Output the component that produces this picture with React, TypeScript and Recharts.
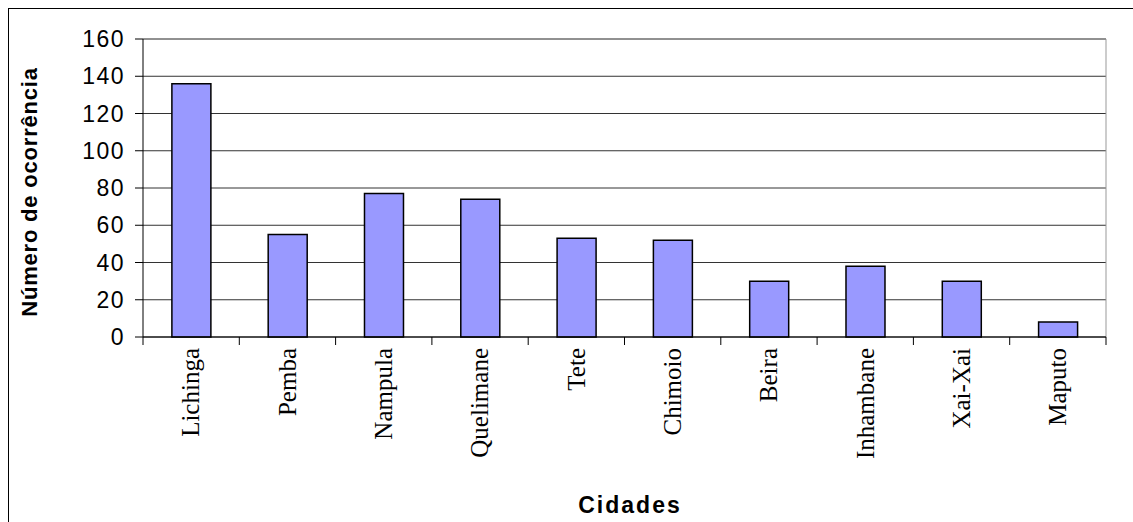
import { Bar, BarChart, CartesianGrid, ReferenceLine, XAxis, YAxis } from "recharts";

const cities = [
  "Lichinga",
  "Pemba",
  "Nampula",
  "Quelimane",
  "Tete",
  "Chimoio",
  "Beira",
  "Inhambane",
  "Xai-Xai",
  "Maputo",
];
const occurrences = [136, 55, 77, 74, 53, 52, 30, 38, 30, 8];
const yTicks = [0, 20, 40, 60, 80, 100, 120, 140, 160];

const chartData = cities.map((city, i) => ({ city, value: occurrences[i] }));

function CityTick(props: any) {
  const { x, y, payload, index } = props;
  const half = payload?.offset ?? 0;
  return (
    <g>
      <line x1={x - half} y1={y} x2={x - half} y2={y + 8} stroke="#000" strokeWidth={1} />
      {index === cities.length - 1 && (
        <line x1={x + half} y1={y} x2={x + half} y2={y + 8} stroke="#000" strokeWidth={1} />
      )}
      <text
        x={x}
        y={y + 11}
        transform={`rotate(-90 ${x} ${y + 11})`}
        textAnchor="end"
        dy="0.33em"
        fontFamily="'Liberation Serif', 'Times New Roman', serif"
        fontSize={25}
        fill="#000"
      >
        {payload.value}
      </text>
    </g>
  );
}

export default function App() {
  return (
    <div
      style={{
        position: "fixed",
        left: 0,
        top: 0,
        width: 1133,
        height: 522,
        overflow: "hidden",
        background: "#fff",
      }}
    >
      <div
        style={{
          position: "absolute",
          left: 8,
          top: 8,
          width: 1160,
          height: 560,
          border: "1px solid #000",
        }}
      />
      <div style={{ position: "absolute", left: 0, top: 0 }}>
        <BarChart
          width={1133}
          height={522}
          data={chartData}
          margin={{ top: 39, right: 27, left: 0, bottom: 0 }}
          barCategoryGap="30%"
        >
          <CartesianGrid vertical={false} stroke="#333" strokeWidth={1} />
          <CartesianGrid
            horizontal={false}
            stroke="#999"
            verticalCoordinatesGenerator={({ offset }: any) => [offset.left + offset.width]}
          />
          <ReferenceLine y={160} stroke="#888" strokeWidth={1} />
          <XAxis
            dataKey="city"
            height={185}
            interval={0}
            tickLine={false}
            tickSize={0}
            tickMargin={0}
            axisLine={{ stroke: "#000", strokeWidth: 1 }}
            tick={<CityTick />}
          />
          <YAxis
            width={143}
            domain={[0, 160]}
            ticks={yTicks}
            interval={0}
            tickSize={8}
            tickMargin={10}
            axisLine={{ stroke: "#000", strokeWidth: 1 }}
            tickLine={{ stroke: "#000", strokeWidth: 1 }}
            tick={{
              fill: "#000",
              fontSize: 23,
              fontFamily: "'Liberation Sans', Arial, sans-serif",
              letterSpacing: 1.5,
            }}
          />
          <Bar
            dataKey="value"
            fill="#9999FF"
            stroke="#000"
            strokeWidth={1.5}
            isAnimationActive={false}
          />
        </BarChart>
      </div>
      <div
        style={{
          position: "absolute",
          left: 30,
          top: 192,
          transform: "translate(-50%, -50%) rotate(-90deg)",
          whiteSpace: "nowrap",
          fontFamily: "'Liberation Sans', Arial, sans-serif",
          fontWeight: "bold",
          fontSize: 22,
          letterSpacing: 0.8,
          color: "#000",
        }}
      >
        Número de ocorrência
      </div>
      <div
        style={{
          position: "absolute",
          left: 630,
          top: 505,
          transform: "translate(-50%, -50%)",
          whiteSpace: "nowrap",
          fontFamily: "'Liberation Sans', Arial, sans-serif",
          fontWeight: "bold",
          fontSize: 23,
          letterSpacing: 2,
          color: "#000",
        }}
      >
        Cidades
      </div>
    </div>
  );
}
